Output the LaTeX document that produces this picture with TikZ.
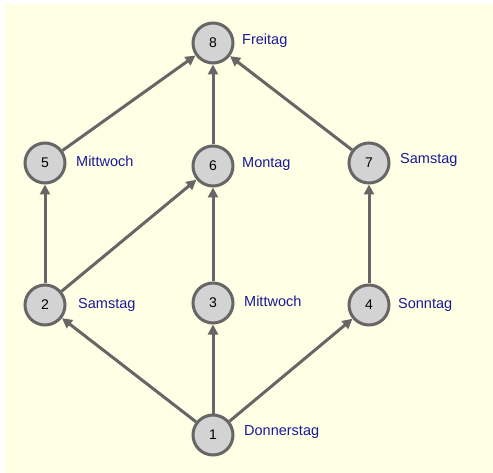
\documentclass[tikz,border=0pt]{standalone}
\usepackage{fontspec}
\setmainfont{Liberation Sans}
\usetikzlibrary{arrows.meta}
\definecolor{bg}{HTML}{FFFFE6}
\definecolor{nodefill}{HTML}{D3D3D3}
\definecolor{edgecol}{HTML}{666666}
\definecolor{labcol}{HTML}{1A1A96}
\begin{document}
\begin{tikzpicture}[x=1pt,y=-1pt,
  vert/.style={circle,draw=edgecol,fill=nodefill,line width=3pt,minimum size=40pt,inner sep=0pt,font=\fontsize{14}{14}\selectfont},
  lab/.style={anchor=south west,text=labcol,inner sep=0pt,font=\fontsize{14.5}{14.5}\selectfont},
  edge/.style={draw=edgecol,line width=3pt,-{Triangle[length=10pt,width=10pt]}}]
\useasboundingbox (0,0) rectangle (493,473);
\fill[white] (0,0) rectangle (493,473);
\fill[bg] (5,4) rectangle (493,473);
\node[vert] (n8) at (213,43) {8};
\node[vert] (n5) at (45,163) {5};
\node[vert] (n6) at (213,166) {6};
\node[vert] (n7) at (369,163) {7};
\node[vert] (n2) at (45,305) {2};
\node[vert] (n3) at (213,303) {3};
\node[vert] (n4) at (369,305) {4};
\node[vert] (n1) at (213,435) {1};
\node[lab] (l8) at (242,48) {Freitag};
\node[lab] (l5) at (76,167) {Mittwoch};
\node[lab] (l6) at (242,171) {Montag};
\node[lab] (l7) at (400,167) {Samstag};
\node[lab] (l2) at (78,312) {Samstag};
\node[lab] (l3) at (244,307) {Mittwoch};
\node[lab] (l4) at (398,312) {Sonntag};
\node[lab] (l1) at (244,439) {Donnerstag};
\draw[edge] (n1) -- (n2);
\draw[edge] (n1) -- (n3);
\draw[edge] (n1) -- (n4);
\draw[edge] (n2) -- (n5);
\draw[edge] (n2) -- (n6);
\draw[edge] (n3) -- (n6);
\draw[edge] (n4) -- (n7);
\draw[edge] (n5) -- (n8);
\draw[edge] (n6) -- (n8);
\draw[edge] (n7) -- (n8);
\end{tikzpicture}
\end{document}
